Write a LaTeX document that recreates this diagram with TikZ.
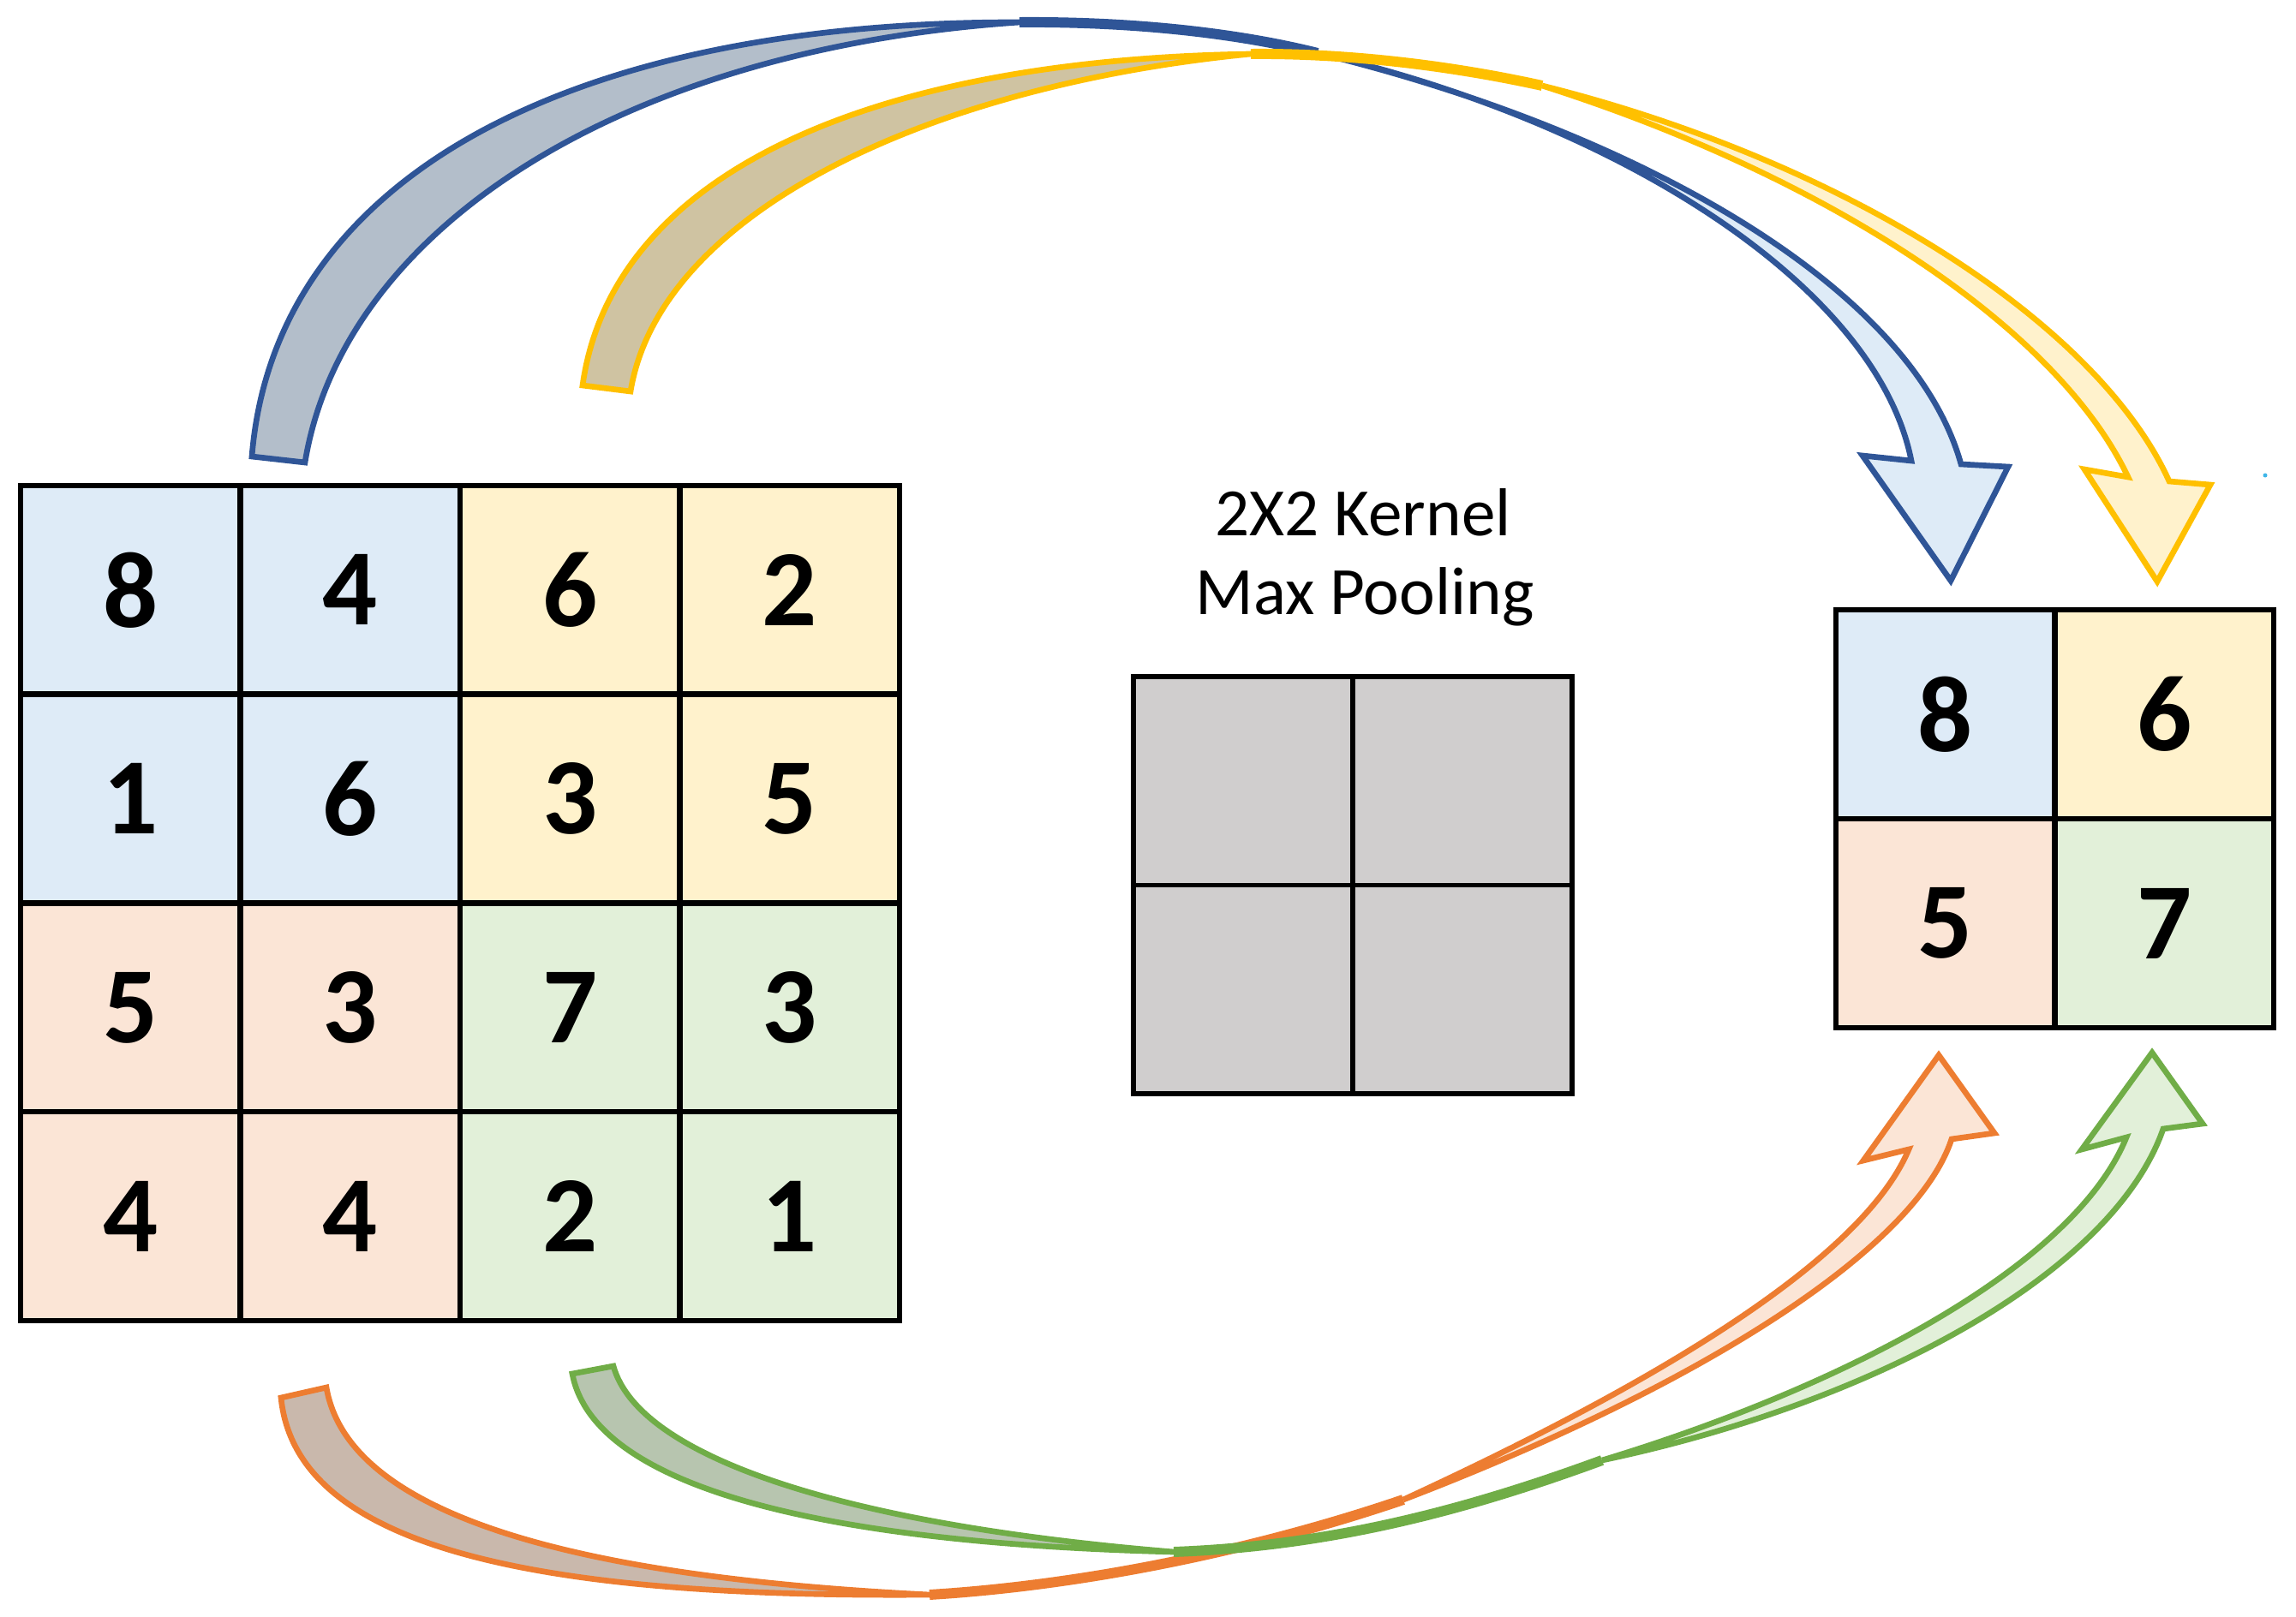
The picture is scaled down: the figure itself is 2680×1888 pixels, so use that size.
\documentclass[tikz,border=0pt]{standalone}
\usepackage{fontspec}
\setmainfont{Carlito}
\definecolor{bluefill}{HTML}{DEEBF7}
\definecolor{yelfill}{HTML}{FFF2CC}
\definecolor{orafill}{HTML}{FBE5D6}
\definecolor{grnfill}{HTML}{E2F0D9}
\definecolor{kerfill}{HTML}{D0CECE}
\definecolor{blueline}{HTML}{2F5597}
\definecolor{yelline}{HTML}{FFC000}
\definecolor{oraline}{HTML}{ED7D31}
\definecolor{grnline}{HTML}{70AD47}
\definecolor{blueback}{HTML}{B3BECA}
\definecolor{yelback}{HTML}{CFC3A2}
\definecolor{oraback}{HTML}{C9B8AC}
\definecolor{grnback}{HTML}{B7C5AF}
\definecolor{dotcol}{HTML}{3FB6E8}
\begin{document}
\begin{tikzpicture}[x=0.01cm,y=-0.01cm,
  cell/.style={draw=black, line width=1.8pt, minimum width=2.565cm, minimum height=2.4375cm,
    inner sep=0pt, font=\fontsize{36}{42}\selectfont\bfseries},
  kcell/.style={draw=black, line width=1.6pt, fill=kerfill, minimum width=2.56cm, minimum height=2.435cm, inner sep=0pt},
  rcell/.style={cell, minimum width=2.555cm, minimum height=2.44cm},
  lbl/.style={font=\fontsize{22.5}{26}\selectfont, inner sep=0pt, anchor=base},
  band/.style={line width=1.9pt, line join=miter},
  merge/.style={line width=3.4pt, line cap=butt}]
\useasboundingbox (0,0) rectangle (2680,1888);

% ---- input 4x4 grid ----
\node[cell, fill=bluefill] (a11) at (152.25,688.9) {8};
\node[cell, fill=bluefill] (a12) at (408.75,688.9) {4};
\node[cell, fill=yelfill]  (a13) at (665.25,688.9) {6};
\node[cell, fill=yelfill]  (a14) at (921.75,688.9) {2};
\node[cell, fill=bluefill] (a21) at (152.25,932.6) {1};
\node[cell, fill=bluefill] (a22) at (408.75,932.6) {6};
\node[cell, fill=yelfill]  (a23) at (665.25,932.6) {3};
\node[cell, fill=yelfill]  (a24) at (921.75,932.6) {5};
\node[cell, fill=orafill]  (a31) at (152.25,1176.4) {5};
\node[cell, fill=orafill]  (a32) at (408.75,1176.4) {3};
\node[cell, fill=grnfill]  (a33) at (665.25,1176.4) {7};
\node[cell, fill=grnfill]  (a34) at (921.75,1176.4) {3};
\node[cell, fill=orafill]  (a41) at (152.25,1420.1) {4};
\node[cell, fill=orafill]  (a42) at (408.75,1420.1) {4};
\node[cell, fill=grnfill]  (a43) at (665.25,1420.1) {2};
\node[cell, fill=grnfill]  (a44) at (921.75,1420.1) {1};

% ---- kernel ----
\node[kcell] (k11) at (1451,911.75) {};
\node[kcell] (k12) at (1707,911.75) {};
\node[kcell] (k21) at (1451,1155.25) {};
\node[kcell] (k22) at (1707,1155.25) {};
\node[lbl] (t1) at (1591,626) {2X2 Kernel};
\node[lbl] (t2) at (1593,718) {Max Pooling};

% ---- output 2x2 grid ----
\node[rcell, fill=bluefill] (o11) at (2270.75,834) {8};
\node[rcell, fill=yelfill]  (o12) at (2526.25,834) {6};
\node[rcell, fill=orafill]  (o21) at (2270.75,1078) {5};
\node[rcell, fill=grnfill]  (o22) at (2526.25,1078) {7};

\node[circle, fill=dotcol, inner sep=0pt, minimum size=0.05cm] (dot) at (2644,555) {};

% ---- blue arrow ----
\coordinate (bTL) at (294,533);
\coordinate (bTR) at (356,540);
\coordinate (bP1) at (1190,26);
\coordinate (bP2) at (1538,62);
\coordinate (bBR) at (2289,542);
\coordinate (bCR) at (2344,545);
\coordinate (bTip) at (2277,678);
\coordinate (bCL) at (2174,532);
\coordinate (bBL) at (2231,538);
\draw[band, draw=blueline, fill=blueback] (bTL) .. controls (320,210) and (660,25) .. (bP1)
   .. controls (720,58) and (400,270) .. (bTR) -- cycle;
\draw[merge, blueline] (bP1) .. controls (1330,25) and (1450,40) .. (bP2);
\draw[band, draw=blueline, fill=bluefill] (bP2) .. controls (1900,150) and (2230,330) .. (bBR)
   -- (bCR) -- (bTip) -- (bCL) -- (bBL) .. controls (2190,330) and (1880,140) .. (bP2) -- cycle;

% ---- yellow arrow ----
\coordinate (yTL) at (680,450);
\coordinate (yTR) at (736,457);
\coordinate (yP1) at (1460,63);
\coordinate (yP2) at (1800,100);
\coordinate (yBR) at (2532,562);
\coordinate (yCR) at (2580,566);
\coordinate (yTip) at (2518,679);
\coordinate (yCL) at (2433,548);
\coordinate (yBL) at (2484,557);
\draw[band, draw=yelline, fill=yelback] (yTL) .. controls (715,200) and (1020,70) .. (yP1)
   .. controls (1080,100) and (770,250) .. (yTR) -- cycle;
\draw[merge, yelline] (yP1) .. controls (1580,62) and (1700,78) .. (yP2);
\draw[band, draw=yelline, fill=yelfill] (yP2) .. controls (2160,190) and (2450,380) .. (yBR)
   -- (yCR) -- (yTip) -- (yCL) -- (yBL) .. controls (2400,380) and (2130,205) .. (yP2) -- cycle;

% ---- orange arrow ----
\coordinate (oTL) at (328,1632);
\coordinate (oTR) at (381,1620);
\coordinate (oP1) at (1085,1862);
\coordinate (oP2) at (1638,1751);
\coordinate (oBL) at (2228,1342);
\coordinate (oCL) at (2175,1355);
\coordinate (oTip) at (2263,1232);
\coordinate (oCR) at (2328,1323);
\coordinate (oBR) at (2278,1330);
\draw[band, draw=oraline, fill=oraback] (oTL) .. controls (345,1800) and (600,1866) .. (oP1)
   .. controls (640,1840) and (405,1760) .. (oTR) -- cycle;
\draw[merge, oraline] (oP1) .. controls (1250,1852) and (1450,1815) .. (oP2);
\draw[band, draw=oraline, fill=orafill] (oP2) .. controls (1900,1630) and (2170,1480) .. (oBL)
   -- (oCL) -- (oTip) -- (oCR) -- (oBR) .. controls (2235,1460) and (1980,1620) .. (oP2) -- cycle;

% ---- green arrow ----
\coordinate (gTL) at (668,1604);
\coordinate (gTR) at (716,1595);
\coordinate (gP1) at (1370,1812);
\coordinate (gP2) at (1870,1705);
\coordinate (gBL) at (2482,1328);
\coordinate (gCL) at (2430,1342);
\coordinate (gTip) at (2512,1229);
\coordinate (gCR) at (2571,1312);
\coordinate (gBR) at (2525,1318);
\draw[band, draw=grnline, fill=grnback] (gTL) .. controls (690,1720) and (900,1800) .. (gP1)
   .. controls (980,1780) and (745,1700) .. (gTR) -- cycle;
\draw[merge, grnline] (gP1) .. controls (1560,1805) and (1720,1760) .. (gP2);
\draw[band, draw=grnline, fill=grnfill] (gP2) .. controls (2150,1620) and (2420,1480) .. (gBL)
   -- (gCL) -- (gTip) -- (gCR) -- (gBR) .. controls (2465,1490) and (2180,1640) .. (gP2) -- cycle;
\end{tikzpicture}
\end{document}
